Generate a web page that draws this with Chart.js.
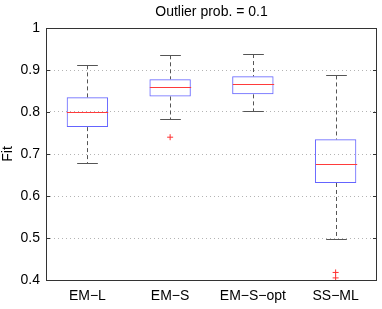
<!DOCTYPE html>
<html>
<head>
<meta charset="utf-8">
<script src="https://cdn.jsdelivr.net/npm/chart.js@4"></script>
<style>
  html, body { margin: 0; padding: 0; background: #fff; }
  #wrap { width: 382px; height: 309px; }
</style>
</head>
<body>
<div id="wrap"><canvas id="chart" width="382" height="309"></canvas></div>
<script>
// ═══ DATA ═══
const methods = ['EM\u2212L', 'EM\u2212S', 'EM\u2212S\u2212opt', 'SS\u2212ML'];
const whiskerLow = [0.678, 0.783, 0.802, 0.497];
const quart1 = [0.764, 0.837, 0.842, 0.631];
const medians = [0.800, 0.860, 0.866, 0.676];
const quart3 = [0.835, 0.878, 0.885, 0.735];
const whiskerHigh = [0.911, 0.935, 0.938, 0.887];
const outlierCat = [1, 3, 3];
const outlierVal = [0.740, 0.418, 0.405];
const yTicks = [0.4, 0.5, 0.6, 0.7, 0.8, 0.9, 1];

const FONT = '"Liberation Sans", Arial, Helvetica, sans-serif';

// whiskers, caps, medians and the axes frame
const boxExtras = {
  id: 'boxExtras',
  afterDatasetsDraw(chart) {
    const { ctx, chartArea: a, scales: { x, y } } = chart;
    const step = x.getPixelForValue(1) - x.getPixelForValue(0);
    const capHalf = step * 0.125;
    const boxHalf = step * 0.25;
    ctx.save();
    methods.forEach((m, i) => {
      const cx = Math.round(x.getPixelForValue(i)) + 0.5;
      // dashed whiskers
      ctx.strokeStyle = '#555';
      ctx.lineWidth = 1;
      ctx.setLineDash([4, 3]);
      ctx.beginPath();
      ctx.moveTo(cx, y.getPixelForValue(whiskerHigh[i]));
      ctx.lineTo(cx, y.getPixelForValue(quart3[i]));
      ctx.moveTo(cx, y.getPixelForValue(quart1[i]));
      ctx.lineTo(cx, y.getPixelForValue(whiskerLow[i]));
      ctx.stroke();
      ctx.setLineDash([]);
      // caps
      ctx.beginPath();
      [whiskerHigh[i], whiskerLow[i]].forEach(v => {
        const py = Math.round(y.getPixelForValue(v)) + 0.5;
        ctx.moveTo(cx - capHalf, py);
        ctx.lineTo(cx + capHalf, py);
      });
      ctx.stroke();
      // median
      ctx.strokeStyle = '#ff3b3b';
      ctx.beginPath();
      const my = Math.round(y.getPixelForValue(medians[i])) + 0.5;
      ctx.moveTo(cx - boxHalf, my);
      ctx.lineTo(cx + boxHalf, my);
      ctx.stroke();
    });
    // frame
    ctx.strokeStyle = '#333';
    ctx.lineWidth = 1;
    ctx.strokeRect(Math.round(a.left) + 0.5, Math.round(a.top) + 0.5,
      Math.round(a.right - a.left) - 1, Math.round(a.bottom - a.top));
    // inward tick marks
    ctx.beginPath();
    yTicks.forEach(v => {
      const py = Math.round(y.getPixelForValue(v)) + 0.5;
      ctx.moveTo(a.left, py); ctx.lineTo(a.left + 4, py);
      ctx.moveTo(a.right - 4, py); ctx.lineTo(a.right, py);
    });
    ctx.stroke();
    ctx.restore();
  }
};

new Chart(document.getElementById('chart'), {
  data: {
    labels: methods,
    datasets: [
      {
        type: 'bar',
        data: methods.map((m, i) => [quart1[i], quart3[i]]),
        backgroundColor: 'rgba(0,0,0,0)',
        borderColor: '#6464ff',
        borderWidth: 1,
        borderSkipped: false,
        barPercentage: 0.5,
        categoryPercentage: 1
      },
      {
        type: 'line',
        data: outlierCat.map((c, i) => ({ x: methods[c], y: outlierVal[i] })),
        showLine: false,
        pointStyle: 'cross',
        pointRadius: 3,
        borderColor: '#ff3030',
        borderWidth: 1
      }
    ]
  },
  options: {
    responsive: false,
    animation: false,
    events: [],
    layout: { padding: { top: 0, right: 4, left: 0, bottom: 0 } },
    plugins: {
      legend: { display: false },
      tooltip: { enabled: false },
      title: {
        display: true,
        fullSize: false,
        text: 'Outlier prob. = 0.1',
        color: '#000',
        font: { family: FONT, size: 14, weight: 'normal', lineHeight: 1.2 },
        padding: { top: 4, bottom: 7.2 }
      }
    },
    scales: {
      x: {
        offset: true,
        grid: { display: false, drawTicks: false },
        border: { display: false },
        ticks: { color: '#000', font: { family: FONT, size: 14 }, padding: 8, maxRotation: 0 },
        afterFit: s => { s.height = 29; }
      },
      y: {
        min: 0.4,
        max: 1,
        afterBuildTicks: s => { s.ticks = yTicks.map(v => ({ value: v })); },
        grid: {
          color: c => (c.tick.value > 0.4 && c.tick.value < 1) ? '#b4b4b4' : 'rgba(0,0,0,0)',
          drawTicks: false
        },
        border: { display: false, dash: [1, 3] },
        ticks: {
          color: '#000',
          font: { family: FONT, size: 14 },
          padding: 6,
          callback: v => (v === 1 ? '1' : v.toFixed(1))
        },
        title: { display: true, text: 'Fit', color: '#000', font: { family: FONT, size: 14 }, padding: 0 },
        afterFit: s => { s.width = 46; }
      }
    }
  },
  plugins: [boxExtras]
});
</script>
</body>
</html>
